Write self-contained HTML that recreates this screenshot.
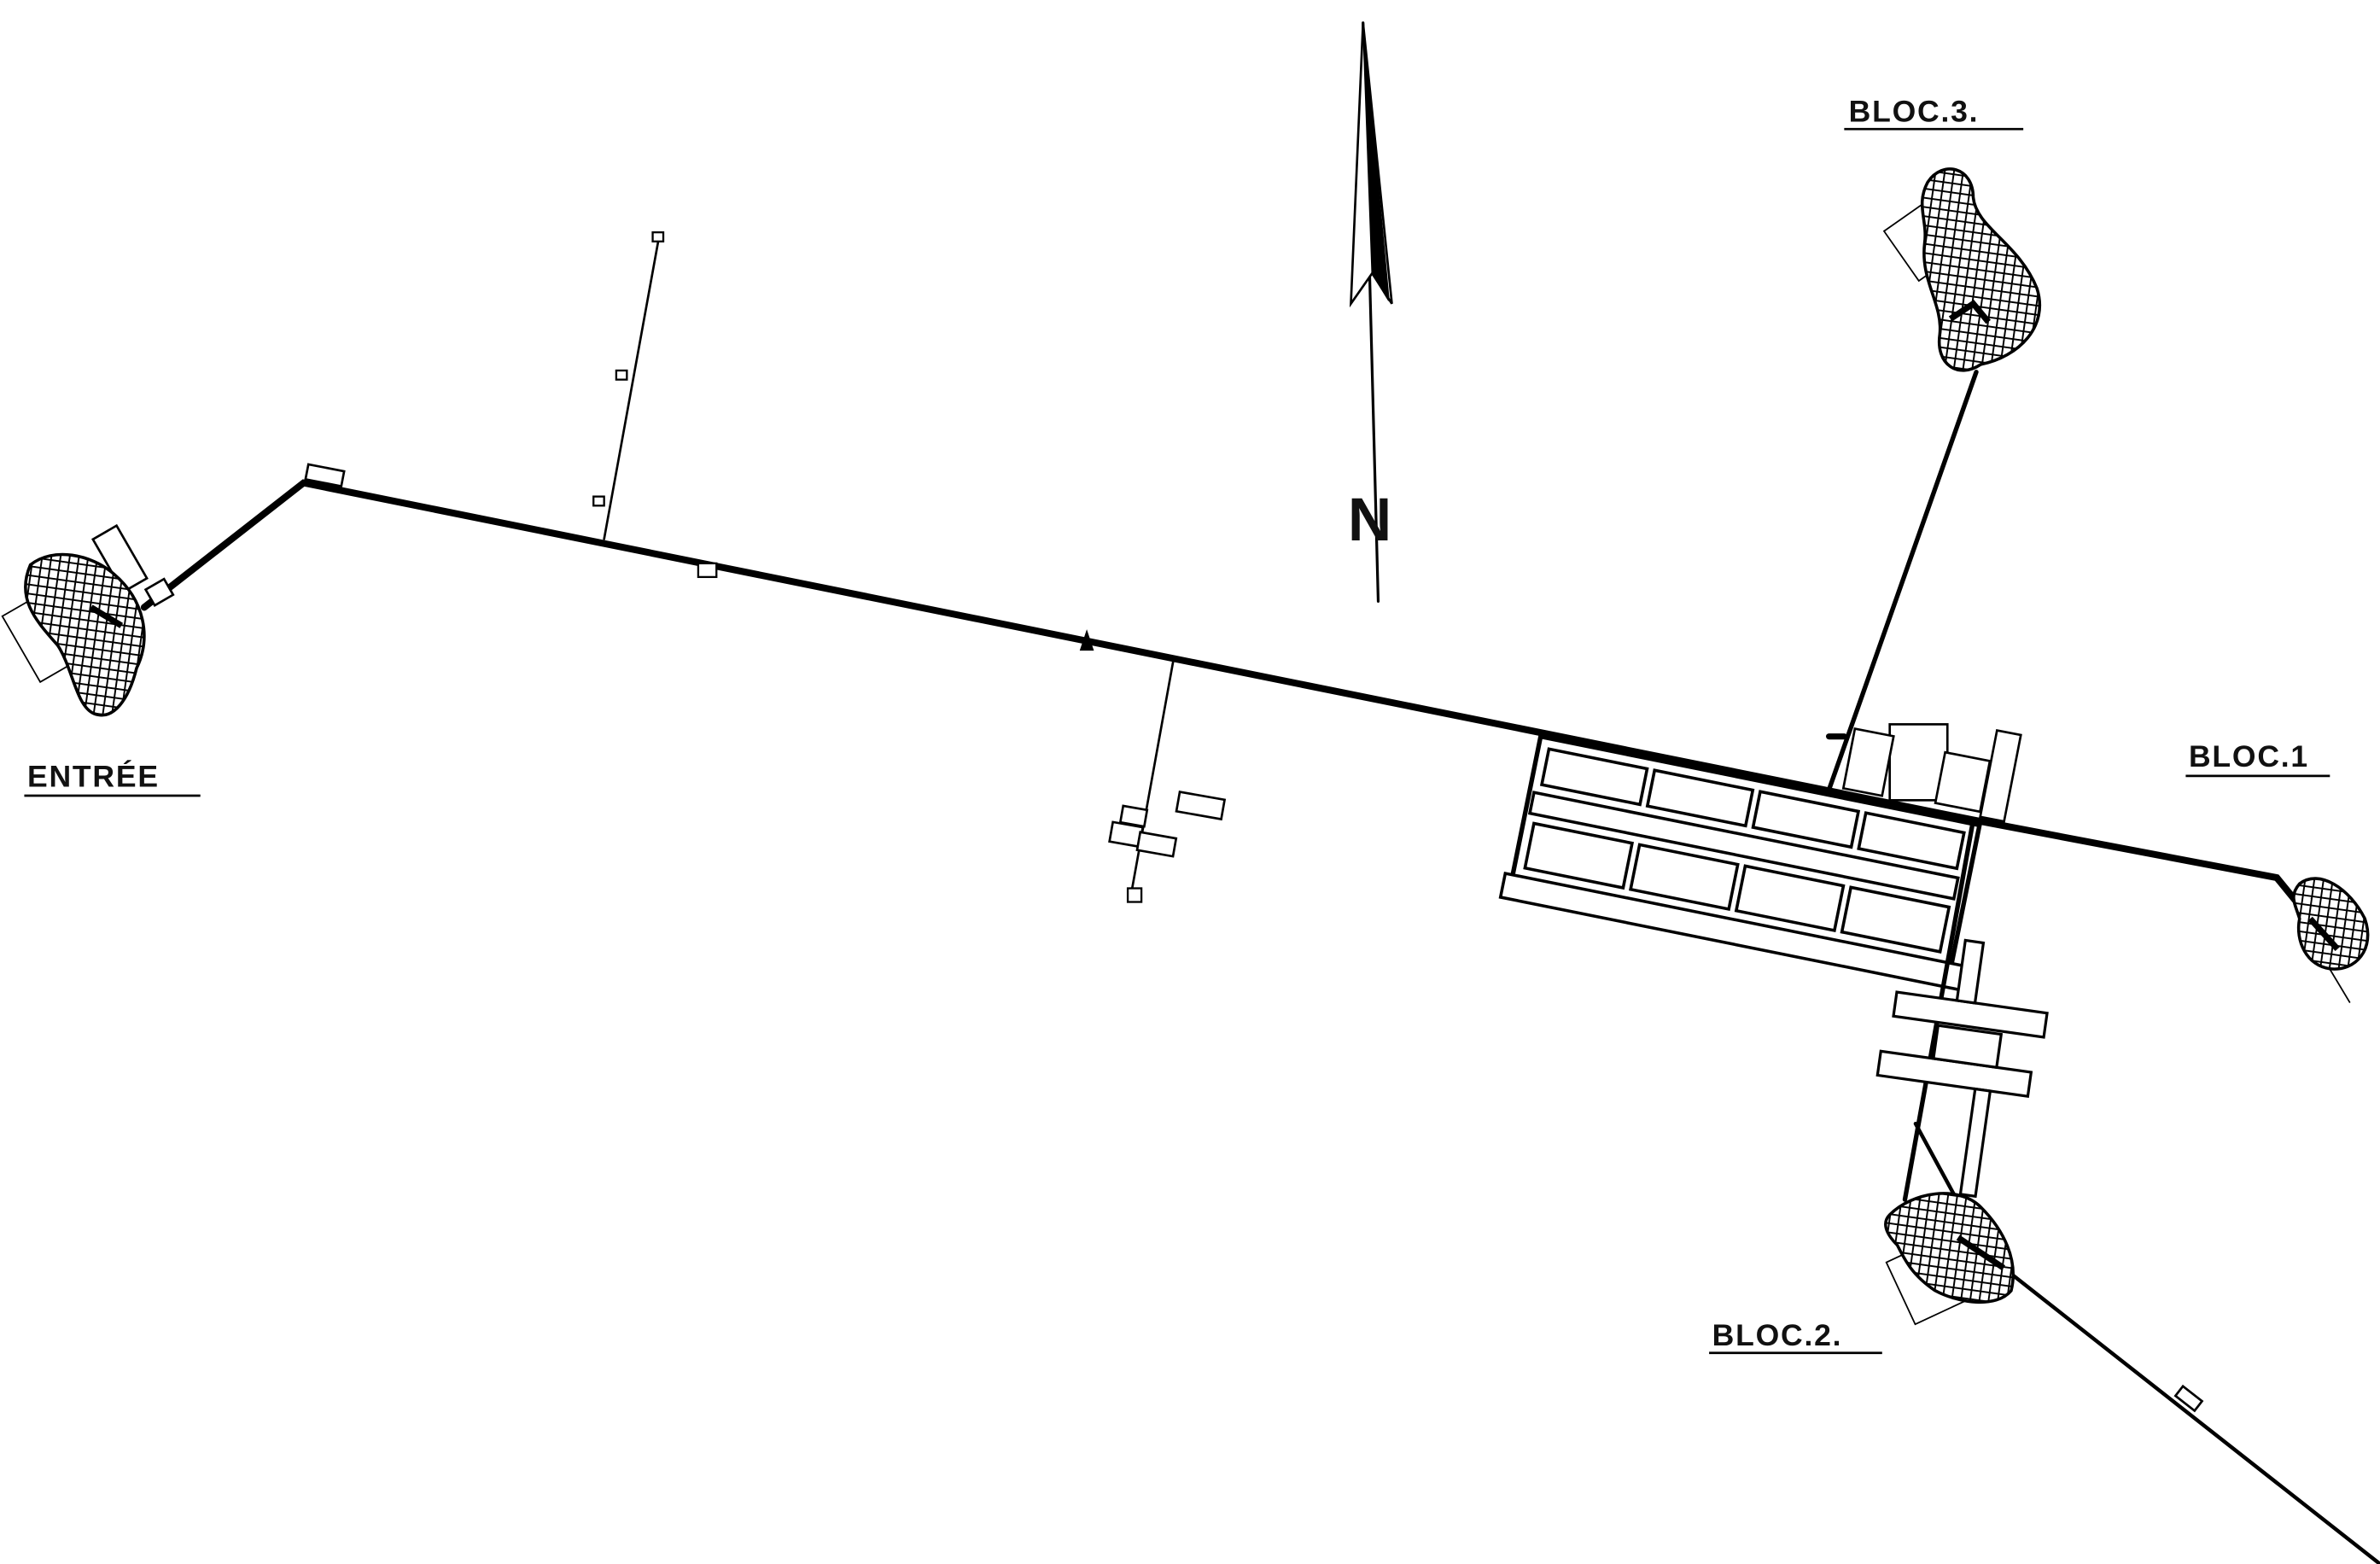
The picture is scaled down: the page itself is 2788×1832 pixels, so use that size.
<!DOCTYPE html>
<html><head><meta charset="utf-8"><style>
html,body{margin:0;padding:0;background:#fff;}
svg{display:block;}
text{font-family:"Liberation Sans",sans-serif;font-weight:bold;fill:#111;}
</style></head><body>
<svg width="2788" height="1832" viewBox="0 0 1568 1030" preserveAspectRatio="none" xmlns="http://www.w3.org/2000/svg">
<defs>
<pattern id="hatch" width="6" height="6" patternUnits="userSpaceOnUse" patternTransform="rotate(8)">
<rect width="6" height="6" fill="#fff"/>
<path d="M0 0H6M0 0V6" stroke="#000" stroke-width="2.2"/>
</pattern>
</defs>
<rect width="1568" height="1030" fill="#fff"/>
<g stroke="#000" fill="none" stroke-linecap="round">
<!-- main road -->
<polyline points="95,400 200,318 1300,540 1500,578 1522,605" stroke-width="4.5"/>
<!-- entry small rects -->
<rect x="202" y="308" width="24" height="10" transform="rotate(11 214 313)" stroke-width="1.5" fill="#fff"/>
<rect x="70" y="348" width="18" height="40" transform="rotate(-30 79 368)" stroke-width="1.5" fill="#fff"/>
<rect x="98" y="384" width="14" height="12" transform="rotate(-30 105 390)" stroke-width="1.5" fill="#fff"/>
<rect x="12" y="395" width="30" height="50" transform="rotate(-30 27 420)" stroke-width="1" fill="#fff"/>
<!-- north branch -->
<line x1="398" y1="355" x2="434" y2="157" stroke-width="1.5"/>
<rect x="430" y="153" width="7" height="6" stroke-width="1.3" fill="#fff"/>
<rect x="406" y="244" width="7" height="6" stroke-width="1.3" fill="#fff"/>
<rect x="391" y="327" width="7" height="6" stroke-width="1.3" fill="#fff"/>
<rect x="460" y="371" width="12" height="9" stroke-width="1.3" fill="#fff"/>
<path d="M712 428 L716 416 L720 428Z" fill="#000" stroke-width="1"/>
<!-- south branch -->
<line x1="773" y1="435" x2="745" y2="590" stroke-width="1.5"/>
<rect x="776" y="524" width="30" height="13" transform="rotate(10 791 530)" stroke-width="1.5" fill="#fff"/>
<rect x="739" y="532" width="16" height="11" transform="rotate(10 747 537)" stroke-width="1.5" fill="#fff"/>
<rect x="732" y="543" width="20" height="13" transform="rotate(10 742 549)" stroke-width="1.5" fill="#fff"/>
<rect x="750" y="550" width="24" height="12" transform="rotate(10 762 556)" stroke-width="1.5" fill="#fff"/>
<rect x="743" y="585" width="9" height="9" stroke-width="1.3" fill="#fff"/>
<!-- north arrow -->
<line x1="898" y1="15" x2="908" y2="396" stroke-width="1.8"/>
<path d="M898 15 L890 200 L904 180 L917 200 Z" stroke-width="1.5" fill="#fff"/>
<path d="M898 15 L904 180 L915 198 Z" fill="#000" stroke-width="1"/>
<!-- block complex -->
<g transform="rotate(11.4 1015 485)" stroke-width="2" fill="#fff">
<rect x="1015" y="485" width="295" height="105" stroke-width="3" fill="none"/>
<rect x="1022" y="492" width="66" height="24"/>
<rect x="1093" y="492" width="66" height="24"/>
<rect x="1164" y="492" width="66" height="24"/>
<rect x="1235" y="492" width="66" height="24"/>
<rect x="1018" y="522" width="285" height="14"/>
<rect x="1022" y="542" width="66" height="30"/>
<rect x="1093" y="542" width="66" height="30"/>
<rect x="1164" y="542" width="66" height="30"/>
<rect x="1235" y="542" width="66" height="30"/>
<rect x="1010" y="578" width="312" height="16"/>
</g>
<!-- top right small rects near bloc 3 junction -->
<rect x="1245" y="477" width="38" height="50" stroke-width="1.5" fill="#fff"/>
<rect x="1218" y="482" width="26" height="40" transform="rotate(11 1231 502)" stroke-width="1.5" fill="#fff"/>
<rect x="1278" y="498" width="30" height="34" transform="rotate(11 1293 515)" stroke-width="1.5" fill="#fff"/>
<rect x="1310" y="482" width="16" height="58" transform="rotate(11 1318 511)" stroke-width="1.5" fill="#fff"/>
<!-- bloc 3 line -->
<line x1="1205" y1="520" x2="1302" y2="245" stroke-width="3"/>
<line x1="1205" y1="485" x2="1215" y2="485" stroke-width="4"/>
<!-- south part -->
<line x1="1300" y1="540" x2="1255" y2="790" stroke-width="3"/>
<g transform="rotate(8 1295 690)" stroke-width="1.8" fill="#fff">
<rect x="1245" y="660" width="100" height="16"/>
<rect x="1240" y="700" width="100" height="16"/>
<rect x="1275" y="678" width="42" height="22"/>
<rect x="1285" y="620" width="12" height="40"/>
<rect x="1305" y="716" width="10" height="70"/>
</g>
<line x1="1262" y1="740" x2="1300" y2="810" stroke-width="2.5"/>
<line x1="1320" y1="835" x2="1568" y2="1030" stroke-width="2.5"/>
<rect x="1434" y="917" width="16" height="8" transform="rotate(38 1442 921)" stroke-width="1.5" fill="#fff"/>
<rect x="1250" y="820" width="45" height="45" transform="rotate(-25 1272 842)" stroke-width="1" fill="#fff"/>
<rect x="1250" y="140" width="30" height="40" transform="rotate(-35 1265 160)" stroke-width="1" fill="#fff"/>
<line x1="1518" y1="610" x2="1548" y2="660" stroke-width="1"/>
</g>
<!-- hatched blobs -->
<g stroke="#000" stroke-width="2" fill="url(#hatch)">
<path d="M20 372 C35 360,60 365,75 378 C95 395,100 420,90 440 C85 460,75 475,62 470 C50 465,48 440,38 425 C25 410,10 395,20 372Z"/>
<path d="M1270 120 C1280 105,1300 110,1300 130 C1302 150,1330 160,1342 190 C1350 215,1330 235,1305 240 C1290 250,1275 240,1278 220 C1280 200,1265 185,1268 160 C1270 145,1262 135,1270 120Z"/>
<path d="M1515 582 C1528 572,1548 585,1558 605 C1565 625,1552 640,1535 638 C1520 636,1512 620,1515 605 C1512 595,1508 590,1515 582Z"/>
<path d="M1245 800 C1260 785,1290 780,1305 795 C1320 810,1330 830,1325 850 C1315 862,1290 858,1275 850 C1260 840,1255 830,1250 820 C1242 812,1240 805,1245 800Z"/>
</g>
<g stroke="#000" stroke-width="4" fill="none">
<line x1="60" y1="400" x2="80" y2="412"/>
<path d="M1285 210 L1300 200 L1310 212"/>
<line x1="1522" y1="605" x2="1540" y2="625"/>
<line x1="1290" y1="815" x2="1320" y2="835"/>
</g>
<!-- N -->
<text x="888" y="356" font-size="40" font-family="Liberation Serif,serif">N</text>
<!-- labels -->
<g font-size="20" letter-spacing="1">
<text x="18" y="518">ENTRÉE</text>
<text x="1218" y="80">BLOC.3.</text>
<text x="1442" y="505">BLOC.1</text>
<text x="1128" y="886">BLOC.2.</text>
</g>
<g stroke="#000" stroke-width="1.5">
<line x1="16" y1="524" x2="132" y2="524"/>
<line x1="1215" y1="85" x2="1333" y2="85"/>
<line x1="1440" y1="511" x2="1535" y2="511"/>
<line x1="1126" y1="891" x2="1240" y2="891"/>
</g>
</svg>
</body></html>
